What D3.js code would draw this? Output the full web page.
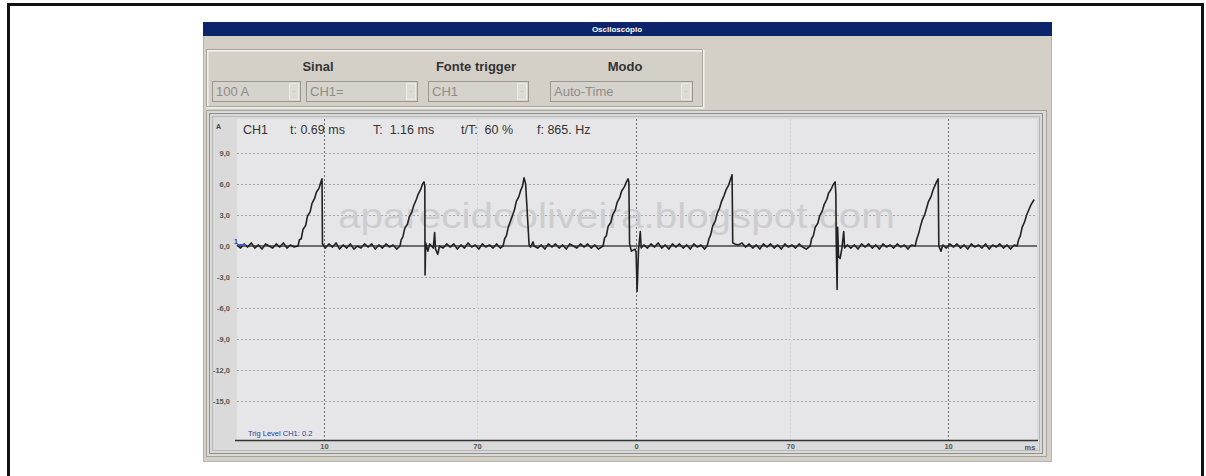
<!DOCTYPE html>
<html><head><meta charset="utf-8">
<script src="https://cdn.jsdelivr.net/npm/d3@7"></script>
<style>
html,body{margin:0;padding:0;background:#fff;}
svg{display:block;}
text{font-family:Arial,"Liberation Sans",sans-serif;}
</style></head>
<body>
<svg id="chart" width="1206" height="476"></svg>
<script>
// ---------------- data ----------------
const windowTitle = "Osciloscópio";
const groupLabels = ["Sinal", "Fonte trigger", "Modo"];
const comboValues = ["100 A", "CH1=", "CH1", "Auto-Time"];
const headerFields = ["CH1", "t: 0.69 ms", "T:  1.16 ms", "t/T:  60 %", "f: 865. Hz"];
const yTicks = [9, 6, 3, 0, -3, -6, -9, -12, -15];
const yUnit = "A";
const xTickValues = [0.975, 2.69, 4.473, 6.2, 7.97];
const xTickLabels = ["10", "70", "0", "70", "10"];
const xMajor = [0.975, 4.473, 7.97];
const xMinor = [2.69, 6.2];
const xUnit = "ms";
const triggerText = "Trig Level CH1: 0.2";
const watermark = "aparecidooliveira.blogspot.com";
// waveform samples: [time ms, current A]
const trace = [
[0.00,0.1],[0.04,-0.2],[0.08,0.2],[0.12,-0.1],[0.16,0.3],[0.20,-0.2],[0.24,0.1],[0.28,-0.3],[0.32,0.2],[0.36,0.0],[0.40,-0.2],[0.44,0.2],[0.48,-0.1],[0.52,0.3],[0.56,-0.2],[0.60,0.1],[0.64,-0.1],[0.684,0.0],
[0.70,0.6],[0.72,0.7],[0.74,1.6],[0.77,2.0],[0.79,2.9],[0.82,3.3],[0.84,4.1],[0.87,4.6],[0.89,5.2],[0.92,5.6],[0.94,6.2],[0.953,6.5],[0.958,0.2],
[0.99,-0.2],[1.03,0.2],[1.07,-0.1],[1.11,0.3],[1.15,-0.3],[1.19,0.1],[1.23,-0.2],[1.27,0.2],[1.31,-0.3],[1.35,0.0],[1.39,-0.2],[1.43,0.2],[1.47,-0.1],[1.51,0.2],[1.55,-0.3],[1.59,0.1],[1.63,-0.2],[1.67,0.2],[1.71,-0.1],[1.75,0.1],[1.79,-0.3],[1.827,0.0],
[1.84,0.6],[1.86,0.9],[1.88,1.7],[1.91,2.1],[1.93,2.8],[1.96,3.3],[1.98,3.9],[2.01,4.5],[2.03,5.0],[2.06,5.5],[2.08,6.0],[2.096,6.2],[2.105,5.8],[2.108,-2.8],[2.115,0.3],[2.14,-0.5],[2.16,0.2],[2.20,-0.2],[2.215,1.3],[2.225,-0.3],[2.25,-0.8],[2.27,0.0],
[2.31,-0.2],[2.35,0.2],[2.39,-0.1],[2.43,0.2],[2.47,-0.3],[2.51,0.1],[2.55,-0.2],[2.59,0.3],[2.63,-0.1],[2.67,0.1],[2.71,-0.3],[2.75,0.2],[2.79,-0.1],[2.83,0.1],[2.87,-0.2],[2.91,0.2],[2.95,-0.2],[2.982,0.0],
[3.00,0.7],[3.02,1.0],[3.04,1.8],[3.06,2.3],[3.09,3.0],[3.11,3.5],[3.13,4.3],[3.16,4.8],[3.18,5.4],[3.20,5.8],[3.217,6.6],[3.235,6.0],[3.274,0.1],[3.29,-0.1],[3.318,0.4],[3.33,0.0],
[3.37,-0.2],[3.41,0.1],[3.45,-0.3],[3.49,0.2],[3.53,-0.1],[3.57,0.2],[3.61,-0.2],[3.65,0.1],[3.69,-0.3],[3.73,0.2],[3.77,0.0],[3.81,-0.2],[3.85,0.2],[3.89,-0.1],[3.93,0.2],[3.97,-0.2],[4.01,0.1],[4.05,-0.3],[4.103,0.0],
[4.12,0.8],[4.14,1.0],[4.16,1.9],[4.19,2.3],[4.21,3.0],[4.24,3.5],[4.26,4.2],[4.29,4.7],[4.31,5.3],[4.34,5.7],[4.36,6.1],[4.383,6.5],[4.392,6.2],[4.40,0.2],[4.42,-0.5],[4.46,-0.3],[4.473,-0.6],[4.484,-4.4],[4.49,-3.0],[4.50,-0.4],[4.52,1.4],[4.53,-0.2],[4.56,0.1],
[4.60,-0.2],[4.64,0.2],[4.68,-0.1],[4.72,0.3],[4.76,-0.2],[4.80,0.1],[4.84,-0.3],[4.88,0.2],[4.92,-0.1],[4.96,0.2],[5.00,-0.2],[5.04,0.1],[5.08,-0.3],[5.12,0.2],[5.16,-0.1],[5.20,0.1],[5.24,-0.3],[5.269,0.0],
[5.29,0.7],[5.31,1.1],[5.33,1.9],[5.36,2.4],[5.38,3.1],[5.41,3.7],[5.43,4.3],[5.46,4.9],[5.48,5.4],[5.51,5.9],[5.53,6.4],[5.549,6.9],[5.556,0.3],
[5.58,0.2],[5.62,0.1],[5.66,0.3],[5.70,-0.1],[5.74,0.2],[5.78,-0.2],[5.82,0.1],[5.86,-0.3],[5.90,0.2],[5.94,-0.1],[5.98,0.2],[6.02,-0.2],[6.06,0.1],[6.10,-0.3],[6.14,0.2],[6.18,-0.1],[6.22,0.1],[6.26,-0.2],[6.30,0.2],[6.34,-0.1],[6.38,-0.3],[6.424,0.0],
[6.44,0.7],[6.46,1.0],[6.48,1.8],[6.51,2.2],[6.53,2.9],[6.56,3.4],[6.58,4.0],[6.61,4.5],[6.63,5.1],[6.66,5.5],[6.68,5.9],[6.704,6.2],[6.712,5.0],[6.716,0.5],[6.726,-4.2],[6.732,1.8],[6.742,-1.0],[6.76,-1.2],[6.78,-0.2],[6.80,1.4],[6.81,-0.2],[6.84,0.1],
[6.88,-0.2],[6.92,0.1],[6.96,-0.3],[7.00,0.2],[7.04,-0.1],[7.08,0.2],[7.12,-0.2],[7.16,0.1],[7.20,-0.3],[7.24,0.2],[7.28,-0.1],[7.32,0.1],[7.36,-0.2],[7.40,0.2],[7.44,-0.1],[7.48,0.1],[7.52,-0.3],[7.56,0.1],[7.601,0.0],
[7.62,0.7],[7.64,1.2],[7.66,1.9],[7.68,2.5],[7.71,3.1],[7.73,3.7],[7.75,4.3],[7.78,4.8],[7.80,5.4],[7.82,5.8],[7.84,6.2],[7.859,6.5],[7.866,0.0],[7.89,-0.5],[7.91,0.1],
[7.95,-0.2],[7.99,0.2],[8.03,-0.1],[8.07,0.2],[8.11,-0.2],[8.15,0.1],[8.19,-0.3],[8.23,0.2],[8.27,-0.1],[8.31,0.1],[8.35,-0.2],[8.39,0.2],[8.43,-0.3],[8.47,0.1],[8.51,-0.1],[8.55,0.2],[8.59,-0.2],[8.63,0.1],[8.67,-0.3],[8.71,0.1],[8.744,0.0],
[8.76,0.6],[8.78,1.0],[8.80,1.8],[8.83,2.4],[8.85,3.0],[8.88,3.6],[8.90,4.0],[8.935,4.5]
];

// ---------------- layout ----------------
const svg = d3.select("#chart");
const plot = {left: 237, right: 1037, top: 119, bottom: 440};
const x = d3.scaleLinear().domain([0, 9]).range([237, 1040]);
const y = d3.scaleLinear().domain([-15, 9]).range([401, 153]);

// outer black frame (open at bottom)
svg.append("path").attr("d","M8.5,476 V4.5 H1202.5 V476")
  .attr("fill","none").attr("stroke","#111").attr("stroke-width",3);

// window
svg.append("rect").attr("x",203).attr("y",22).attr("width",849).attr("height",440).attr("fill","#d4d0c8");
svg.append("rect").attr("x",203.5).attr("y",22.5).attr("width",848).attr("height",439).attr("fill","none").attr("stroke","#b8b5ae");
svg.append("rect").attr("x",203).attr("y",22).attr("width",849).attr("height",14).attr("fill","#0c246c");
svg.append("text").attr("x",617).attr("y",32).attr("text-anchor","middle")
  .attr("font-size",8).attr("font-weight","bold").attr("fill","#fff").text(windowTitle);

// group box
svg.append("rect").attr("x",207.5).attr("y",50.5).attr("width",496).attr("height",57).attr("fill","none").attr("stroke","#f4f3ef").attr("stroke-width",2);
svg.append("rect").attr("x",206.5).attr("y",49.5).attr("width",496).attr("height",57).attr("fill","none").attr("stroke","#a8a59e");
const labelX = [318, 476, 625];
groupLabels.forEach((t,i)=>{
  svg.append("text").attr("x",labelX[i]).attr("y",71).attr("text-anchor","middle")
    .attr("font-size",13).attr("font-weight","bold").attr("fill","#333").text(t);
});
const combos = [[212,300],[306,417],[428,528],[550,692]];
combos.forEach((c,i)=>{
  const g = svg.append("g");
  g.append("rect").attr("x",c[0]+0.5).attr("y",81.5).attr("width",c[1]-c[0]).attr("height",20).attr("fill","#d6d3cc").attr("stroke","#9a978f");
  g.append("rect").attr("x",c[1]-10.5).attr("y",83.5).attr("width",9).attr("height",16).attr("fill","#dedbd4").attr("stroke","#ecebe6");
  g.append("text").attr("x",c[1]-6).attr("y",94).attr("text-anchor","middle").attr("font-size",7).attr("fill","#999").text("·");
  g.append("text").attr("x",c[0]+4).attr("y",96).attr("font-size",13).attr("fill","#8e8c88").text(comboValues[i]);
});

// plot panel
svg.append("rect").attr("x",206.5).attr("y",110.5).attr("width",840).attr("height",346).attr("fill","#dcdad6").attr("stroke","#a6a39c");
svg.append("rect").attr("x",209.5).attr("y",113.5).attr("width",833).attr("height",340).attr("fill","#d9d9d9").attr("stroke","#8f8f8f");
svg.append("rect").attr("x",212.5).attr("y",116.5).attr("width",827).attr("height",334).attr("fill","#dadada").attr("stroke","#b8b8b8");
svg.append("rect").attr("x",plot.left).attr("y",plot.top).attr("width",plot.right-plot.left).attr("height",plot.bottom-plot.top).attr("fill","#e6e6e9");

// grid
const gGrid = svg.append("g");
gGrid.selectAll("line.h").data(yTicks.filter(d=>d!==0)).join("line")
  .attr("x1",plot.left).attr("x2",plot.right).attr("y1",d=>Math.round(y(d))+0.5).attr("y2",d=>Math.round(y(d))+0.5)
  .attr("stroke","#a4a4a4").attr("stroke-dasharray","2,2");
gGrid.selectAll("line.vmaj").data(xMajor).join("line")
  .attr("y1",plot.top).attr("y2",plot.bottom).attr("x1",d=>Math.round(x(d))+0.5).attr("x2",d=>Math.round(x(d))+0.5)
  .attr("stroke","#6e6e6e").attr("stroke-dasharray","2,2");
gGrid.selectAll("line.vmin").data(xMinor).join("line")
  .attr("y1",plot.top).attr("y2",plot.bottom).attr("x1",d=>Math.round(x(d))+0.5).attr("x2",d=>Math.round(x(d))+0.5)
  .attr("stroke","#d2d2d2").attr("stroke-dasharray","2,2");

// watermark
svg.append("text").attr("x",338).attr("y",228).attr("font-size",35).attr("fill","#cdcdd0")
  .attr("textLength",557).attr("lengthAdjust","spacingAndGlyphs").text(watermark);

// zero reference line
svg.append("line").attr("x1",plot.left).attr("x2",plot.right).attr("y1",y(0)).attr("y2",y(0))
  .attr("stroke","#444").attr("stroke-width",1.6);

// trace
const line = d3.line().x(d=>x(d[0])).y(d=>y(d[1]));
svg.append("path").datum(trace).attr("d",line).attr("fill","none").attr("stroke","#222")
  .attr("stroke-width",1.6).attr("stroke-linejoin","round");

// channel marker
svg.append("text").attr("x",234).attr("y",y(0)-2).attr("font-size",7).attr("font-weight","bold").attr("fill","#2233aa").text("1");
svg.append("line").attr("x1",238).attr("x2",246).attr("y1",y(0)-1).attr("y2",y(0)-1).attr("stroke","#4455cc").attr("stroke-width",2);

// y axis labels
const yAxis = d3.axisLeft(y).tickValues(yTicks).tickSize(0).tickPadding(0)
  .tickFormat(d=>d.toFixed(1).replace(".",","));
const gy = svg.append("g").attr("transform","translate(230,0)").call(yAxis);
gy.select(".domain").remove();
gy.selectAll("text").attr("font-size",7.5).attr("font-weight","bold").attr("fill","#555").attr("font-family","Arial");
svg.append("text").attr("x",216).attr("y",129).attr("font-size",7).attr("font-weight","bold").attr("fill","#444").text(yUnit);

// x axis
const xAxis = d3.axisBottom(x).tickValues(xTickValues).tickSize(0).tickPadding(4)
  .tickFormat((d,i)=>xTickLabels[i]);
const gx = svg.append("g").attr("transform",`translate(0,${plot.bottom})`).call(xAxis);
gx.select(".domain").remove();
gx.selectAll("text").attr("font-size",7.5).attr("font-weight","bold").attr("fill","#555").attr("font-family","Arial");
svg.append("line").attr("x1",plot.left-2).attr("x2",plot.right+1).attr("y1",plot.bottom+0.5).attr("y2",plot.bottom+0.5).attr("stroke","#333").attr("stroke-width",1.5);
svg.append("text").attr("x",1030).attr("y",450).attr("text-anchor","middle").attr("font-size",7.5).attr("font-weight","bold").attr("fill","#555").text(xUnit);

// header measurements
const headerX = [243, 290, 373, 461, 537];
headerFields.forEach((t,i)=>{
  svg.append("text").attr("x",headerX[i]).attr("y",134).attr("font-size",12.5).attr("fill","#333")
    .attr("xml:space","preserve").style("white-space","pre").text(t);
});

// trigger level
svg.append("text").attr("x",248).attr("y",436).attr("font-size",7.5).attr("fill","#2a3a9a").text(triggerText);
</script>
</body></html>
